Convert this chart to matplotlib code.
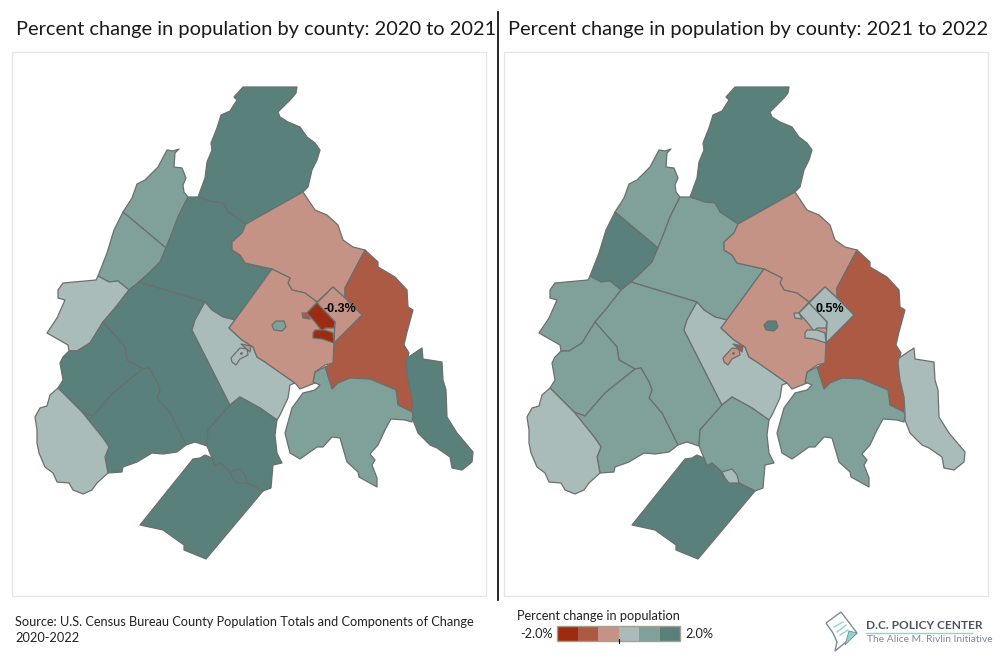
#!/usr/bin/env python3
"""
Percent change in population by county, DC metro area
Two choropleth panels side by side, shapes traced in figure pixels
"""

import matplotlib
matplotlib.use('Agg')
import matplotlib.pyplot as plt
from matplotlib.colors import BoundaryNorm, ListedColormap
from matplotlib.patches import Polygon, Rectangle

counties = ['Frederick', 'Jefferson', 'Clarke', 'Warren', 'Loudoun', 'Fauquier',
            'Rappahannock', 'Culpeper', 'Madison', 'Prince William', 'Stafford',
            'Spotsylvania', 'Fredericksburg', 'Montgomery', 'Prince Georges',
            'Charles', 'Calvert', 'Fairfax', 'Fairfax City', 'Manassas',
            'Manassas Park', 'DC', 'Arlington', 'Alexandria', 'Falls Church']

# estimated from the bin colours
change_2021 = [1.6, 0.9, 1.0, 0.4, 1.7, 1.5, 1.5, 1.6, 0.4, 0.3, 1.6, 1.7, 1.4,
               -0.3, -1.0, 0.9, 1.5, -0.4, 0.9, 0.3, -0.4, -0.3, -1.7, -1.6, -1.0]
change_2022 = [1.6, 0.9, 1.5, 0.9, 0.9, 0.9, 0.9, 0.9, 0.3, 0.3, 1.0, 1.5, 0.4,
               -0.4, -1.0, 0.9, 0.4, -0.5, 1.5, -0.3, -1.0, 0.5, 0.3, 0.3, 0.3]

bin_edges = [-2.0, -1.33, -0.67, 0.0, 0.67, 1.33, 2.0]
bin_colors = ['#9c2b10', '#ad5a45', '#c49385', '#aabcb9', '#7fa199', '#59807a']

panel_titles = ['Percent change in population by county: 2020 to 2021',
                'Percent change in population by county: 2021 to 2022']
dc_labels = ['-0.3%', '0.5%']
legend_title = 'Percent change in population'
legend_low, legend_high = '-2.0%', '2.0%'
source_lines = ['Source: U.S. Census Bureau County Population Totals and Components of Change',
                '2020-2022']

# county outlines, x and y in pixels of the left panel
shapes = {
    'Prince William': [(205, 302), (212, 310), (223, 317), (235, 320), (229, 328), (242, 340),
                       (253, 347), (257, 357), (265, 362), (295, 383), (290, 385), (288, 398),
                       (280, 415), (277, 420), (260, 408), (240, 397), (230, 405), (192, 330),
                       (195, 320)],
    'Frederick': [(243, 87), (297, 87), (296, 93), (292, 98), (285, 105), (278, 112), (280, 117),
                  (288, 122), (300, 127), (307, 137), (315, 143), (320, 150), (317, 160),
                  (312, 170), (308, 187), (303, 192), (246, 224), (228, 212), (223, 203),
                  (213, 202), (198, 197), (205, 178), (207, 162), (212, 150), (211, 143),
                  (217, 128), (221, 115), (230, 111), (237, 100), (234, 97)],
    'Jefferson': [(167, 150), (173, 151), (179, 149), (175, 153), (174, 167), (182, 168),
                  (186, 178), (183, 185), (184, 192), (188, 197), (178, 217), (172, 233),
                  (166, 248), (123, 212), (132, 198), (137, 184), (145, 180), (158, 167)],
    'Clarke': [(123, 212), (166, 248), (160, 262), (150, 272), (139, 282), (129, 290), (118, 281),
               (109, 282), (98, 276), (107, 253), (114, 230)],
    'Warren': [(98, 276), (109, 282), (118, 281), (129, 290), (115, 308), (103, 322), (90, 343),
               (77, 351), (69, 351), (68, 345), (47, 333), (57, 318), (65, 300), (58, 298),
               (58, 290), (63, 283), (96, 280)],
    'Loudoun': [(198, 197), (213, 202), (223, 203), (228, 212), (246, 224), (242, 233), (232, 242),
                (232, 250), (240, 255), (245, 263), (272, 269), (235, 320), (223, 317), (212, 310),
                (205, 302), (139, 282), (150, 272), (160, 262), (166, 248), (172, 233), (178, 217),
                (188, 197)],
    'Fauquier': [(139, 282), (205, 302), (195, 320), (192, 330), (230, 405), (208, 430), (207, 446),
                 (195, 442), (186, 445), (182, 437), (177, 427), (170, 413), (157, 398), (160, 390),
                 (157, 382), (149, 368), (143, 369), (127, 360), (125, 347), (103, 322), (115, 308),
                 (129, 290)],
    'Rappahannock': [(103, 322), (125, 347), (127, 360), (143, 369), (113, 393), (93, 416),
                     (82, 412), (58, 388), (63, 380), (60, 363), (63, 357), (69, 351), (77, 351),
                     (90, 343)],
    'Culpeper': [(143, 369), (149, 368), (157, 382), (160, 390), (157, 398), (170, 413), (177, 427),
                 (182, 437), (186, 445), (177, 452), (163, 454), (152, 453), (137, 462), (123, 467),
                 (122, 472), (108, 473), (105, 457), (109, 447), (103, 438), (82, 412), (93, 416),
                 (113, 393)],
    'Madison': [(58, 388), (82, 412), (103, 438), (109, 447), (105, 457), (108, 473), (97, 483),
                (92, 490), (83, 494), (73, 490), (69, 483), (57, 482), (53, 473), (45, 467),
                (39, 453), (37, 443), (37, 430), (35, 417), (40, 408), (47, 406), (50, 395)],
    'Stafford': [(208, 430), (230, 405), (240, 397), (260, 408), (277, 420), (275, 435), (277, 453),
                 (282, 463), (273, 465), (271, 488), (263, 491), (247, 483), (234, 480), (230, 472),
                 (220, 463), (215, 466), (212, 458), (207, 446)],
    'Spotsylvania': [(193, 459), (200, 458), (205, 455), (212, 458), (215, 466), (220, 463),
                     (230, 472), (234, 480), (247, 483), (263, 491), (206, 559), (184, 550),
                     (184, 545), (177, 540), (163, 530), (140, 525)],
    'Fredericksburg': [(230, 472), (240, 469), (245, 475), (247, 483), (237, 483), (233, 478)],
    'Montgomery': [(246, 224), (303, 192), (315, 210), (327, 215), (338, 225), (343, 240), (353, 247),
                   (365, 250), (345, 288), (345, 298), (333, 287), (317, 302), (305, 293), (292, 290),
                   (288, 283), (290, 278), (280, 273), (272, 269), (245, 263), (240, 255), (232, 250),
                   (232, 242), (242, 233)],
    'Prince Georges': [(365, 250), (378, 262), (378, 267), (395, 277), (407, 290), (408, 307), (413, 310),
                       (407, 332), (404, 345), (409, 353), (406, 363), (408, 380), (412, 397), (412, 412),
                       (398, 405), (396, 390), (370, 379), (350, 378), (338, 383), (332, 389), (325, 367),
                       (333, 363), (334, 343), (362, 315), (345, 298), (345, 288)],
    'Charles': [(325, 367), (332, 389), (338, 383), (350, 378), (370, 379), (396, 390), (398, 405),
                (412, 412), (413, 415), (412, 422), (405, 420), (391, 419), (385, 430), (378, 445),
                (370, 454), (375, 460), (372, 465), (377, 478), (377, 487), (359, 477), (358, 472),
                (347, 462), (340, 438), (332, 437), (323, 447), (317, 447), (300, 459), (290, 453),
                (285, 433), (292, 408), (303, 393), (315, 390), (320, 385), (313, 382), (315, 372)],
    'Calvert': [(407, 358), (422, 348), (423, 359), (442, 362), (443, 380), (446, 390), (447, 417),
                (457, 433), (473, 452), (472, 462), (462, 470), (452, 468), (450, 457), (437, 448),
                (430, 445), (418, 433), (413, 420), (413, 413), (412, 397), (408, 380), (406, 363)],
    'Fairfax': [(272, 269), (280, 273), (290, 278), (288, 283), (292, 290), (305, 293), (317, 302),
                (307, 313), (335, 322), (334, 343), (333, 363), (325, 365), (315, 372), (313, 382),
                (315, 383), (300, 389), (295, 383), (265, 362), (257, 357), (253, 347), (242, 340),
                (229, 328)],
    'Fairfax City': [(272, 325), (276, 321), (284, 321), (286, 327), (282, 331), (274, 330)],
    'Manassas': [(231, 358), (240, 348), (247, 349), (248, 355), (240, 359), (236, 365), (232, 362)],
    'Manassas Park': [(241, 344), (251, 346), (250, 352)],
    'DC': [(333, 287), (345, 298), (362, 315), (334, 343), (335, 322), (317, 303)],
    'Arlington': [(307, 313), (317, 303), (335, 322), (334, 328), (325, 328), (322, 331), (315, 322)],
    'Alexandria': [(315, 330), (325, 330), (333, 333), (334, 343), (322, 339), (313, 338), (313, 333)],
    'Falls Church': [(302, 313), (307, 313), (310, 319), (303, 318)],
}


def draw_map(ax, dx, values, cmap, norm):
    """Fill every county from its value; dx moves the map to its panel"""
    for name, value in zip(counties, values):
        pts = [(x + dx, y) for x, y in shapes[name]]
        ax.add_patch(Polygon(pts, closed=True, facecolor=cmap(norm(value)),
                             edgecolor='#6b6f6e', linewidth=0.9, joinstyle='round'))
    # small dot inside Manassas
    ax.plot([241 + dx], [353], marker='o', markersize=1, color='#6b6f6e')


def main():
    plt.rcParams['font.family'] = ['Lato', 'DejaVu Sans']

    fig = plt.figure(figsize=(10, 6.63), dpi=100)
    ax = fig.add_axes([0, 0, 1, 1])
    ax.set_xlim(0, 1000)
    ax.set_ylim(663, 0)
    ax.axis('off')

    cmap = ListedColormap(bin_colors)
    norm = BoundaryNorm(bin_edges, cmap.N)

    # panel frames and divider
    for x0, x1 in [(12, 486), (504, 988)]:
        ax.add_patch(Rectangle((x0, 52), x1 - x0, 544, facecolor='white',
                               edgecolor='#e6e6e6', linewidth=1))
    ax.plot([498, 498], [12, 600], color='black', linewidth=1.2)

    panel_dx = [0, 492]
    title_x = [16, 508]
    label_x = [340, 338]
    for i, values in enumerate([change_2021, change_2022]):
        draw_map(ax, panel_dx[i], values, cmap, norm)
        ax.text(title_x[i], 30, panel_titles[i], ha='left', va='center',
                fontsize=14.4, color='#1a1a1a')
        ax.text(label_x[i] + panel_dx[i], 309.5, dc_labels[i], ha='center', va='center',
                fontsize=9, fontweight='bold', color='black', family='Liberation Sans')

    # source note
    ax.text(15, 622.5, source_lines[0], ha='left', va='center', fontsize=9.2, color='#222222')
    ax.text(15, 638.5, source_lines[1], ha='left', va='center', fontsize=9.2, color='#222222')

    # legend
    ax.text(517, 616, legend_title, ha='left', va='center', fontsize=9.2, color='#222222')
    x0, x1 = 557, 680
    for k, col in enumerate(bin_colors):
        w = (x1 - x0) / len(bin_colors)
        ax.add_patch(Rectangle((x0 + k * w, 626), w, 15, facecolor=col, edgecolor='none'))
    ax.add_patch(Rectangle((x0, 626), x1 - x0, 15, facecolor='none',
                           edgecolor='#a59f8f', linewidth=1))
    ax.plot([618.5, 618.5], [639, 643], color='black', linewidth=0.8)
    ax.text(553, 634, legend_low, ha='right', va='center', fontsize=9.2, color='#222222')
    ax.text(685, 634, legend_high, ha='left', va='center', fontsize=9.2, color='#222222')

    # logo
    ax.add_patch(Polygon([(826, 623), (841, 612), (857, 633), (835, 651), (837, 642),
                          (833, 633)], closed=True, facecolor='white',
                         edgecolor='#7d8a96', linewidth=1))
    ax.add_patch(Polygon([(849, 631), (857, 633), (845, 645)], closed=True,
                         facecolor='#8fd6c8', edgecolor='#7d8a96', linewidth=0.6))
    for (xa, ya), (xb, yb) in [((834, 627), (843, 622)), ((837, 632), (846, 625)),
                               ((840, 635), (848, 630))]:
        ax.plot([xa, xb], [ya, yb], color='#8fd6c8', linewidth=1)
    ax.text(866, 625.5, 'D.C. POLICY CENTER', ha='left', va='center', fontsize=8.6,
            fontweight='bold', color='#4a5560')
    ax.plot([866, 972], [632.7, 632.7], color='#8fd6c8', linewidth=1)
    ax.text(867, 640, 'The Alice M. Rivlin Initiative', ha='left', va='center', fontsize=7.4,
            color='#7d8a96')

    fig.savefig('out.png', dpi=100)
    plt.close(fig)


if __name__ == "__main__":
    main()
